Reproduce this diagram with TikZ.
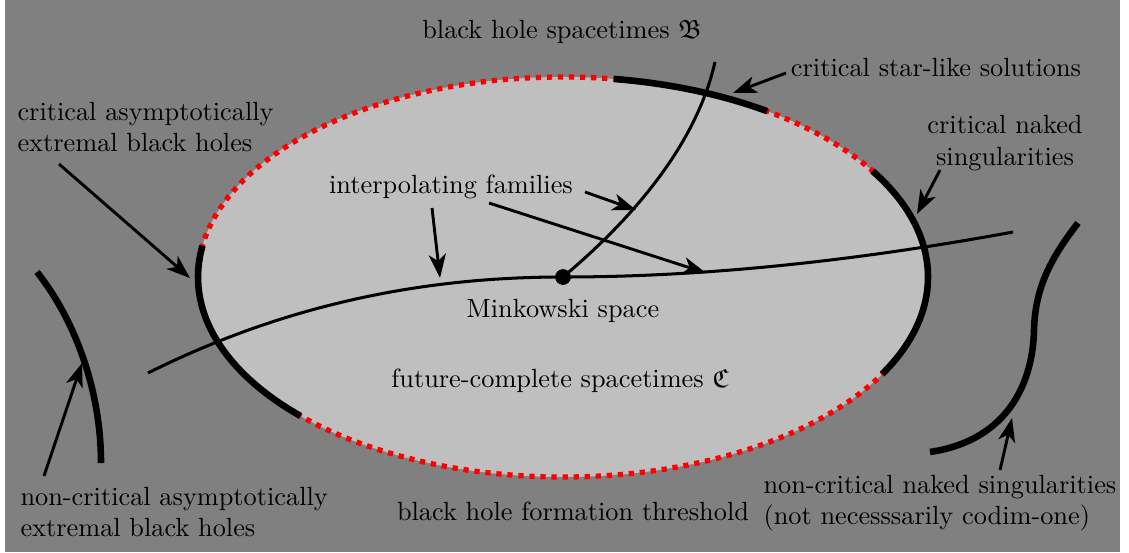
\documentclass[tikz,border=0pt]{standalone}
\usepackage{amssymb}
\usetikzlibrary{arrows.meta,calc}
\begin{document}
\begin{tikzpicture}[x=0.38pt,y=0.38pt,
  lbl/.style={inner sep=0pt,font=\normalsize},
  arr/.style={line width=1.1pt,-{Stealth[length=9pt,width=6.5pt,inset=2.5pt]}},
  thin curve/.style={line width=1.15pt},
  thick arc/.style={line width=2.5pt},
  reddots/.style={red,line width=2pt,dash pattern=on 2pt off 2.2pt}]
\useasboundingbox (0,0) rectangle (1129,-552);
\fill[gray] (5,0) rectangle (1120,-552);
\coordinate (C) at (563,-277);
% region C
\fill[lightgray] (C) ellipse [x radius=138.7pt, y radius=76pt];
\draw[reddots] (C) ellipse [x radius=138.7pt, y radius=76pt];
% critical parts of the threshold
\draw[thick arc] ($(C)+(56:138.7pt and 76pt)$) coordinate (s1) arc [start angle=56, end angle=82, x radius=138.7pt, y radius=76pt];
\draw[thick arc] ($(C)+(-29:138.7pt and 76pt)$) coordinate (s2) arc [start angle=-29, end angle=32, x radius=138.7pt, y radius=76pt];
\draw[thick arc] ($(C)+(171:138.7pt and 76pt)$) coordinate (s3) arc [start angle=171, end angle=224, x radius=138.7pt, y radius=76pt];
% interpolating family
\coordinate (iL) at (148,-373);
\coordinate (iR) at (1013,-232);
\draw[thin curve] (iL) .. controls (298,-298) and (440,-277) .. (C)
                       .. controls (700,-277) and (850,-262) .. (iR);
% black hole family
\coordinate (bT) at (715,-62);
\draw[thin curve] (C) .. controls (625,-225) and (695,-150) .. (bT);
\fill (C) circle [radius=3pt];
% outside curves
\coordinate (lA) at (37,-272);
\coordinate (lB) at (101,-463);
\draw[thick arc] (lA) .. controls (75,-320) and (101,-390) .. (lB);
\coordinate (rA) at (1078,-223);
\coordinate (rM) at (1034,-330);
\coordinate (rB) at (930,-452);
\draw[thick arc] (rA) .. controls (1045,-265) and (1035,-295) .. (rM)
                      .. controls (1033,-380) and (1010,-440) .. (rB);
% labels
\node[lbl] (tB) at (562,-32) {black hole spacetimes $\mathfrak{B}$};
\node[lbl] (tStar) at (936,-68) {critical star-like solutions};
\node[lbl,align=center] (tNaked) at (1005,-143) {critical naked\\singularities};
\node[lbl,align=left,anchor=west] (tCAE) at (17,-127) {critical asymptotically\\extremal black holes};
\node[lbl] (tInt) at (451,-187) {interpolating families};
\node[lbl] (tMink) at (563,-311) {Minkowski space};
\node[lbl] (tC) at (560,-381) {future-complete spacetimes $\mathfrak{C}$};
\node[lbl] (tThr) at (573,-511) {black hole formation threshold};
\node[lbl,align=left,anchor=west] (tNCAE) at (20,-512) {non-critical asymptotically\\extremal black holes};
\node[lbl,align=left,anchor=west] (tNCN) at (763,-503) {non-critical naked singularities\\(not necesssarily codim-one)};
% arrows
\coordinate (a1s) at (786,-73);  \coordinate (a1e) at (733,-93);
\coordinate (a2s) at (940,-170); \coordinate (a2e) at (917,-214);
\coordinate (a3s) at (59,-164);  \coordinate (a3e) at (190,-278);
\coordinate (a4s) at (432,-208); \coordinate (a4e) at (440,-278);
\coordinate (a5s) at (585,-192); \coordinate (a5e) at (636,-210);
\coordinate (a6s) at (489,-203); \coordinate (a6e) at (706,-273);
\coordinate (a7s) at (44,-476);  \coordinate (a7e) at (82,-363);
\coordinate (a8s) at (1000,-470); \coordinate (a8e) at (1012,-418);
\draw[arr] (a1s) -- (a1e);
\draw[arr] (a2s) -- (a2e);
\draw[arr] (a3s) -- (a3e);
\draw[arr] (a4s) -- (a4e);
\draw[arr] (a5s) -- (a5e);
\draw[arr] (a6s) -- (a6e);
\draw[arr] (a7s) -- (a7e);
\draw[arr] (a8s) -- (a8e);
\end{tikzpicture}
\end{document}
